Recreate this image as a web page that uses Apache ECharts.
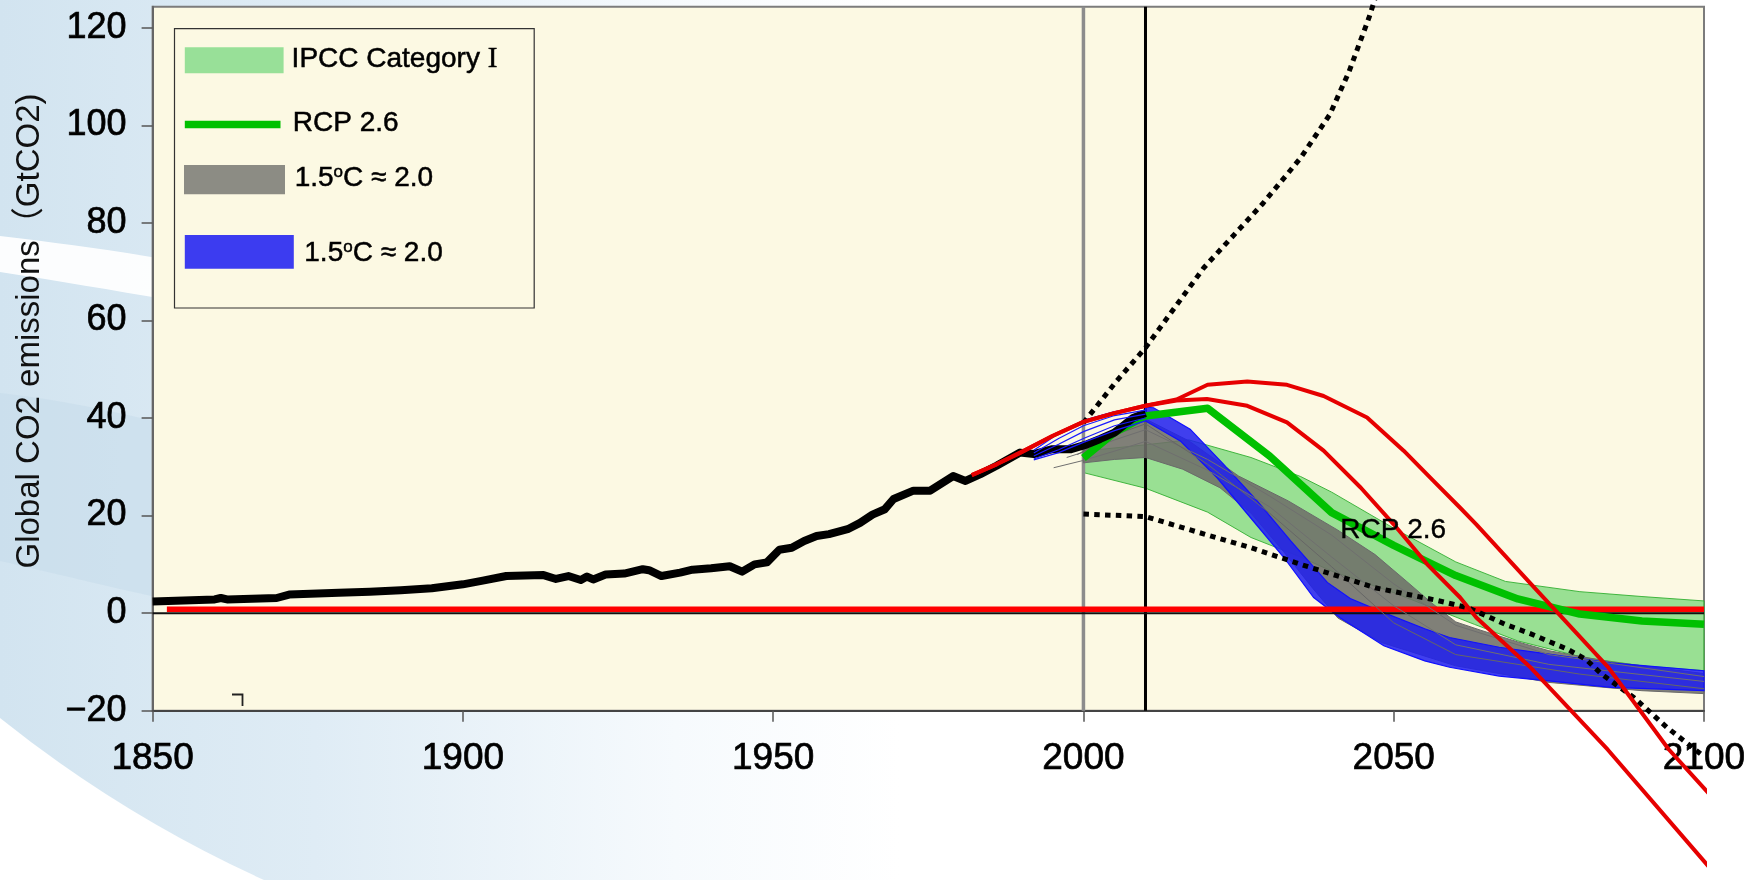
<!DOCTYPE html>
<html><head><meta charset="utf-8">
<script src="https://cdn.jsdelivr.net/npm/echarts@6.0.0/dist/echarts.min.js"></script>
<style>
html,body{margin:0;padding:0;width:1760px;height:880px;overflow:hidden;background:#fff}
#bg{position:absolute;left:0;top:0}
#chart{position:absolute;left:0;top:0;width:1760px;height:880px}
</style></head><body>
<svg id="bg" width="1760" height="880" xmlns="http://www.w3.org/2000/svg">
<defs>
<linearGradient id="g1" gradientUnits="userSpaceOnUse" x1="0" y1="0" x2="900" y2="0">
<stop offset="0" stop-color="#d2e4f0"/><stop offset="0.35" stop-color="#dfecf5"/><stop offset="0.75" stop-color="#f6fafd"/><stop offset="1" stop-color="#ffffff"/>
</linearGradient>
</defs>
<rect width="1760" height="880" fill="#fff"/>
<path d="M0,0 H1760 V880 H264 A1248,1248 0 0 1 0,718 Z" fill="url(#g1)"/>
<path d="M0,393 C60,400 110,410 170,425 L170,600 C100,585 50,572 0,561 Z" fill="#c3d9e8" opacity="0.45"/>
<path d="M0,236 C60,243 110,250 170,260 L170,300 C110,290 60,281 0,272 Z" fill="#ffffff" opacity="0.92"/>
</svg>
<div id="chart"></div>
<script>
// ---- tick labels ----
const xTicks = [1850, 1900, 1950, 2000, 2050, 2100];
const yTicks = [-20, 0, 20, 40, 60, 80, 100, 120];
const verticalYears = [2000, 2010];

// ---- series values [year, GtCO2] ----
const historical = [[1850,2.4],[1855,2.6],[1860,2.8],[1861,3.1],[1862,2.8],[1870,3.1],[1872,3.8],[1880,4.2],[1885,4.4],[1890,4.7],[1895,5.1],[1900,5.9],[1903,6.6],[1907,7.6],[1910,7.7],[1913,7.8],[1915,7.0],[1917,7.6],[1919,6.8],[1920,7.5],[1921,6.9],[1923,7.9],[1926,8.1],[1929,9.0],[1930,8.8],[1932,7.6],[1935,8.3],[1937,8.9],[1940,9.2],[1943,9.6],[1945,8.5],[1947,10.0],[1949,10.4],[1951,13.0],[1953,13.4],[1955,14.8],[1957,15.8],[1959,16.2],[1962,17.2],[1964,18.5],[1966,20.2],[1968,21.3],[1969.4,23.4],[1972.6,25.1],[1975.3,25.1],[1979,28.1],[1981,27.1],[1983.4,28.5],[1986,30.2],[1989.8,32.9],[1992,32.6],[1995,33.6],[1998,33.6],[2000.6,34.6],[2002.7,35.7],[2005,37],[2008,40],[2010,41]];

const ipccUpper = [[2000,33.2],[2010,34.5],[2017,35.5],[2027,31.9],[2035,28],[2040,24.8],[2050,17.4],[2060,10.5],[2068,6.5],[2080,4.4],[2090,3.4],[2100,2.5]];
const ipccLower = [[2000,28.8],[2010,25.6],[2020,20.7],[2027,15.5],[2035,11.5],[2040,8.6],[2050,4.2],[2063,-2.3],[2070,-5.7],[2080.6,-9.1],[2090,-10.8],[2100,-11.8]];

const rcp26 = [[2000,31.8],[2005,37],[2010,40.4],[2020,42],[2030,32.2],[2040,20.6],[2050,13.9],[2060,7.7],[2070,2.9],[2080,-0.2],[2090,-1.6],[2100,-2.3]];

const grayUpper = [[2000,33.5],[2005,37.3],[2010,39.8],[2017,35.3],[2025,28.1],[2033,23],[2041,17],[2047,12],[2052,6.6],[2056,2.2],[2060,-1.8],[2064,-3.5],[2070,-5.9],[2075,-7.7],[2085,-10],[2100,-12.4]];
const grayLower = [[2000,30.8],[2005,31.5],[2010,31.9],[2016,29.5],[2022,25.7],[2027,20.5],[2032,13],[2037,5],[2041,-1],[2048,-6],[2060,-10.8],[2075,-14.2],[2090,-15.9],[2100,-16.5]];
const grayLine1 = [[1995.2,29.8],[2000,31.3],[2005,33.2],[2010,35.2],[2020,29.3],[2030,21.8],[2040,11.5],[2050,1.5],[2060,-6.5],[2075,-10.5],[2100,-14]];
const grayLine2 = [[1997.3,31.9],[2000,33],[2005,35.5],[2010,37.6],[2020,31.5],[2030,24],[2040,16],[2050,6],[2060,-2.5],[2075,-8.5],[2100,-13]];
const grayLine3 = [[1999,32.5],[2005,36.5],[2010,38.8],[2020,30.5],[2030,20.5],[2040,9.5],[2050,-2],[2060,-8.5],[2080,-12.5],[2100,-15.5]];

const blueUpper = [[2010,42.2],[2011.3,42.1],[2017.2,37.7],[2022.6,30.5],[2028,23],[2033.4,14.8],[2039.3,6.3],[2043,3],[2048,0.3],[2055,-3.2],[2059,-5],[2067,-7],[2075,-8.4],[2085,-10.2],[2100,-11.8]];
const blueLower = [[2010,39.4],[2015.6,35.3],[2021.5,27.8],[2026.9,19.6],[2032.3,11.4],[2037.1,3.2],[2041.4,-1],[2048.4,-6.7],[2055,-9.8],[2059,-11.1],[2067,-12.9],[2075,-13.9],[2085,-15.2],[2100,-15.9]];
const blueEarly1 = [[1992,33.4],[1996,36.8],[2000,39.5],[2005,41.3],[2010,42.2]];
const blueEarly2 = [[1992,32.8],[1996,35.8],[2000,38.4],[2005,40.5],[2010,41.6]];
const blueEarly3 = [[1992,32.2],[1996,34.6],[2000,37.2],[2005,39.6],[2010,40.8]];
const blueEarly4 = [[1992,31.6],[1996,33.5],[2000,35.8],[2005,38.4],[2010,40]];
const blueEarly5 = [[1992,31.4],[1996,32.9],[2000,35.0],[2005,37.4],[2010,39.4]];

const redHigh = [[1982,28.3],[1986,30.5],[1990,33],[1995,36.3],[2000,39.2],[2005,41],[2010,42.5],[2015,43.8],[2020,46.8],[2026.4,47.5],[2032.8,46.8],[2038.7,44.5],[2045.7,40.1],[2051.6,33.3],[2056.4,27.1],[2060.7,21.6],[2063.3,18.2],[2072.1,6],[2084.5,-11],[2094.3,-27.9],[2101.8,-38.4]];
const redLow = [[1982,28.3],[1986,30.5],[1990,33],[1995,36.3],[2000,39.2],[2005,41],[2010,42.5],[2015,43.6],[2019.9,43.9],[2026.4,42.5],[2032.8,39.1],[2038.7,33.3],[2044.7,25.7],[2050,18.2],[2055.4,10],[2060.7,3.2],[2063.3,-0.9],[2072.1,-11.2],[2084.5,-28],[2101.8,-53.5]];

const dottedHigh = [[2000,39],[2005.3,47.5],[2010,54.4],[2019.4,70.8],[2028.8,83.8],[2035,93.3],[2039.7,102.2],[2042.8,111],[2046,122],[2048,130]];
const dottedLow = [[2000,20.3],[2010,19.8],[2020,16],[2027,13.4],[2035,10],[2040,8],[2047,5.2],[2057,2.6],[2062,1.1],[2068,-2.3],[2072,-4.2],[2078,-7.4],[2081,-9.5],[2083.5,-12.5],[2088.7,-17.3],[2094,-23.4],[2099.5,-28.9]];

const zeroRed = [[1852.3,0.8],[2100,0.8]];
const zeroBlack = [[1850,0],[2100,0]];
const rcpLabelPos = [[2041.4,17.0]];

// ---- drawing ----
const FONT = '"Liberation Sans", Arial, "Noto Sans CJK JP", sans-serif';
const Y_MIN = -20, Y_MAX = 124.3;
const chart = echarts.init(document.getElementById('chart'), null, {renderer: 'canvas'});

function band(upper, lower, fill, stroke, lw) {
  return {
    type: 'custom', coordinateSystem: 'cartesian2d', clip: false, silent: true,
    data: [[upper[0][0], upper[0][1]]],
    renderItem: function (params, api) {
      const pts = upper.map(p => api.coord(p)).concat(lower.slice().reverse().map(p => api.coord(p)));
      return {type: 'polygon', shape: {points: pts}, style: {fill: fill, stroke: stroke, lineWidth: lw}};
    }
  };
}
function line(data, color, width, type) {
  return {
    type: 'line', data: data, showSymbol: false, symbol: 'none', clip: false, silent: true,
    lineStyle: {color: color, width: width, type: type || 'solid', cap: 'butt', join: 'round'}
  };
}
const legendText = (x, y, text, rich) => ({
  type: 'text', z: 21, x: x, y: y,
  style: {text: text, font: '28px ' + FONT, fill: '#000', stroke: '#000', lineWidth: 0.5,
    textVerticalAlign: 'middle', verticalAlign: 'middle', rich: rich}
});
const supRich = {s: {fontSize: 17, fontFamily: FONT, verticalAlign: 'top', fill: '#000'},
                 r: {fontSize: 29, fontFamily: '"Liberation Serif", serif', fill: '#000'}};

const option = {
  animation: false,
  backgroundColor: 'transparent',
  grid: {left: 152.6, right: 56, top: 6.7, bottom: 169.3, show: true, backgroundColor: '#FCF9E3', borderColor: '#7c7c7c', borderWidth: 2},
  xAxis: {
    type: 'value', min: 1850, max: 2100, interval: 50, splitLine: {show: false},
    axisLine: {show: true, onZero: false, lineStyle: {color: '#444', width: 2}},
    axisTick: {show: true, length: 11, customValues: xTicks, lineStyle: {color: '#555', width: 1.5}},
    axisLabel: {customValues: xTicks, fontSize: 37, color: '#000', margin: 30, fontFamily: FONT,
      textBorderColor: '#000', textBorderWidth: 0.7, formatter: v => String(v)}
  },
  yAxis: {
    type: 'value', min: Y_MIN, max: Y_MAX, interval: 20, splitLine: {show: false},
    axisLine: {show: true, onZero: false, lineStyle: {color: '#666', width: 2}},
    axisTick: {show: true, length: 11, customValues: yTicks, lineStyle: {color: '#555', width: 1.5}},
    axisLabel: {customValues: yTicks, fontSize: 36, color: '#000', margin: 26, fontFamily: FONT,
      textBorderColor: '#000', textBorderWidth: 0.7,
      formatter: v => v < 0 ? '\u2212' + Math.abs(v) : String(v)}
  },
  series: [
    band(ipccUpper, ipccLower, 'rgba(120,215,120,0.75)', 'rgba(50,175,50,0.9)', 1),
    {
      type: 'custom', coordinateSystem: 'cartesian2d', clip: false, silent: true,
      data: verticalYears.map(v => [v, 0]),
      renderItem: function (params, api) {
        const x = api.value(0);
        const p1 = api.coord([x, Y_MIN]), p2 = api.coord([x, Y_MAX]);
        const isFirst = params.dataIndex === 0;
        return {type: 'line', shape: {x1: p1[0], y1: p1[1], x2: p2[0], y2: p2[1]},
          style: {stroke: isFirst ? '#8c8c8c' : '#000', lineWidth: isFirst ? 3.5 : 3}};
      }
    },
    line(zeroBlack, '#111', 2),
    line(zeroRed, '#ff0000', 5.5),
    band(grayUpper, grayLower, 'rgba(110,110,105,0.88)', '#6a6a6a', 1),
    line(grayLine1, '#6f6f6f', 1),
    line(grayLine2, '#6f6f6f', 1),
    line(grayLine3, '#666', 1),
    band(blueUpper, blueLower, 'rgba(30,30,240,0.85)', '#1010ff', 1.2),
    line(rcp26, '#00c000', 7.5),
    line(historical, '#000', 8),
    line(blueEarly1, '#1a1aff', 1.2),
    line(blueEarly2, '#1a1aff', 1.2),
    line(blueEarly3, '#1a1aff', 1.2),
    line(blueEarly4, '#1a1aff', 1.2),
    line(blueEarly5, '#1a1aff', 1.2),
    line(dottedLow, '#000', 5, [5.5, 5.3]),
    line(dottedHigh, '#000', 5, [5.5, 5.3]),
    line(redLow, '#e60000', 4),
    line(redHigh, '#e60000', 4),
    {
      type: 'scatter', data: rcpLabelPos, symbolSize: 0, silent: true, clip: false, z: 30,
      itemStyle: {opacity: 1},
      label: {show: true, position: 'right', distance: 0, formatter: 'RCP 2.6', fontSize: 28, color: '#000',
        opacity: 1, fontFamily: FONT, textBorderColor: '#000', textBorderWidth: 0.4}
    }
  ],
  graphic: {elements: [
    {type: 'text', x: 30, y: 331, rotation: Math.PI / 2, z: 20,
     style: {text: 'Global CO2 emissions\uff08GtCO2)', font: '33px ' + FONT, fill: '#111',
       textAlign: 'center', textVerticalAlign: 'middle', align: 'center', verticalAlign: 'middle'}},
    {type: 'rect', z: 20, shape: {x: 174.5, y: 28.7, width: 359.7, height: 279.3},
     style: {fill: '#FCF9E3', stroke: '#333', lineWidth: 1.2}},
    {type: 'rect', z: 21, shape: {x: 184.8, y: 47.3, width: 98.8, height: 26}, style: {fill: '#98E098'}},
    legendText(291.6, 59.3, 'IPCC Category {r|I}', supRich),
    {type: 'line', z: 21, shape: {x1: 184.8, y1: 124.5, x2: 280.5, y2: 124.5}, style: {stroke: '#00C000', lineWidth: 7.6}},
    legendText(292.8, 123.3, 'RCP 2.6'),
    {type: 'rect', z: 21, shape: {x: 184, y: 165, width: 101, height: 29.3}, style: {fill: '#8C8C84'}},
    legendText(294.7, 177.8, '1.5{s|o}C \u2248 2.0', supRich),
    {type: 'rect', z: 21, shape: {x: 184.8, y: 235, width: 109, height: 33.7}, style: {fill: '#3C3CF0'}},
    legendText(304.3, 253.3, '1.5{s|o}C \u2248 2.0', supRich),
    {type: 'polyline', z: 21, shape: {points: [[232, 694.5], [242.5, 694.5], [242.5, 706]]}, style: {stroke: '#222', lineWidth: 1.8, fill: null}}
  ]}
};
chart.setOption(option);
</script>
</body></html>
